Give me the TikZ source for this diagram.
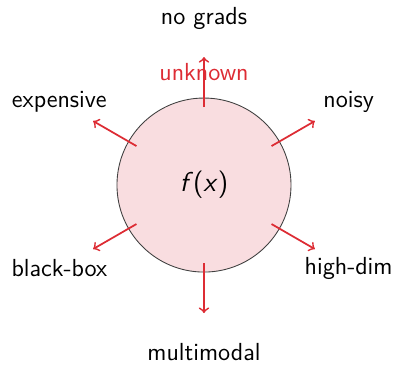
\documentclass[tikz,border=0pt]{standalone}
\definecolor{raycol}{RGB}{221,44,52}
\definecolor{ballfill}{RGB}{249,221,224}
\begin{document}
\begin{tikzpicture}[every node/.style={font=\sffamily\fontsize{11.3}{13}\selectfont}]
\useasboundingbox (-3.282,-2.880) rectangle (3.089,2.977);
\tikzset{ray/.style={->, thick, raycol}}
% the unknown function
\node[circle, draw=black!75, fill=ballfill, minimum size=2.8cm, inner sep=0pt, font=\sffamily\fontsize{12.5}{15}\selectfont] (f) at (0,0) {\textit{f}(\textit{x})};
% ray ends
\coordinate (s1) at (90:1.255);  \coordinate (e1) at (90:2.06);
\coordinate (s2) at (30:1.255);  \coordinate (e2) at (30:2.06);
\coordinate (s3) at (-30:1.255); \coordinate (e3) at (-30:2.06);
\coordinate (s4) at (-90:1.255); \coordinate (e4) at (-90:2.06);
\coordinate (s5) at (210:1.255); \coordinate (e5) at (210:2.06);
\coordinate (s6) at (150:1.255); \coordinate (e6) at (150:2.06);
% labels
\node (grads) at (90:2.687) {no grads};
\node[raycol] (unk) at (90:1.82) {unknown};
\node (noisy) at (30:2.687) {noisy};
\node (dim) at (-30:2.687) {high-dim};
\node (modal) at (-90:2.687) {multimodal};
\node (bbox) at (210:2.687) {black-box};
\node (exp) at (150:2.687) {expensive};
% rays
\draw[ray] (s1) -- (e1); \draw[ray] (s2) -- (e2);
\draw[ray] (s3) -- (e3); \draw[ray] (s4) -- (e4);
\draw[ray] (s5) -- (e5); \draw[ray] (s6) -- (e6);
\end{tikzpicture}
\end{document}
